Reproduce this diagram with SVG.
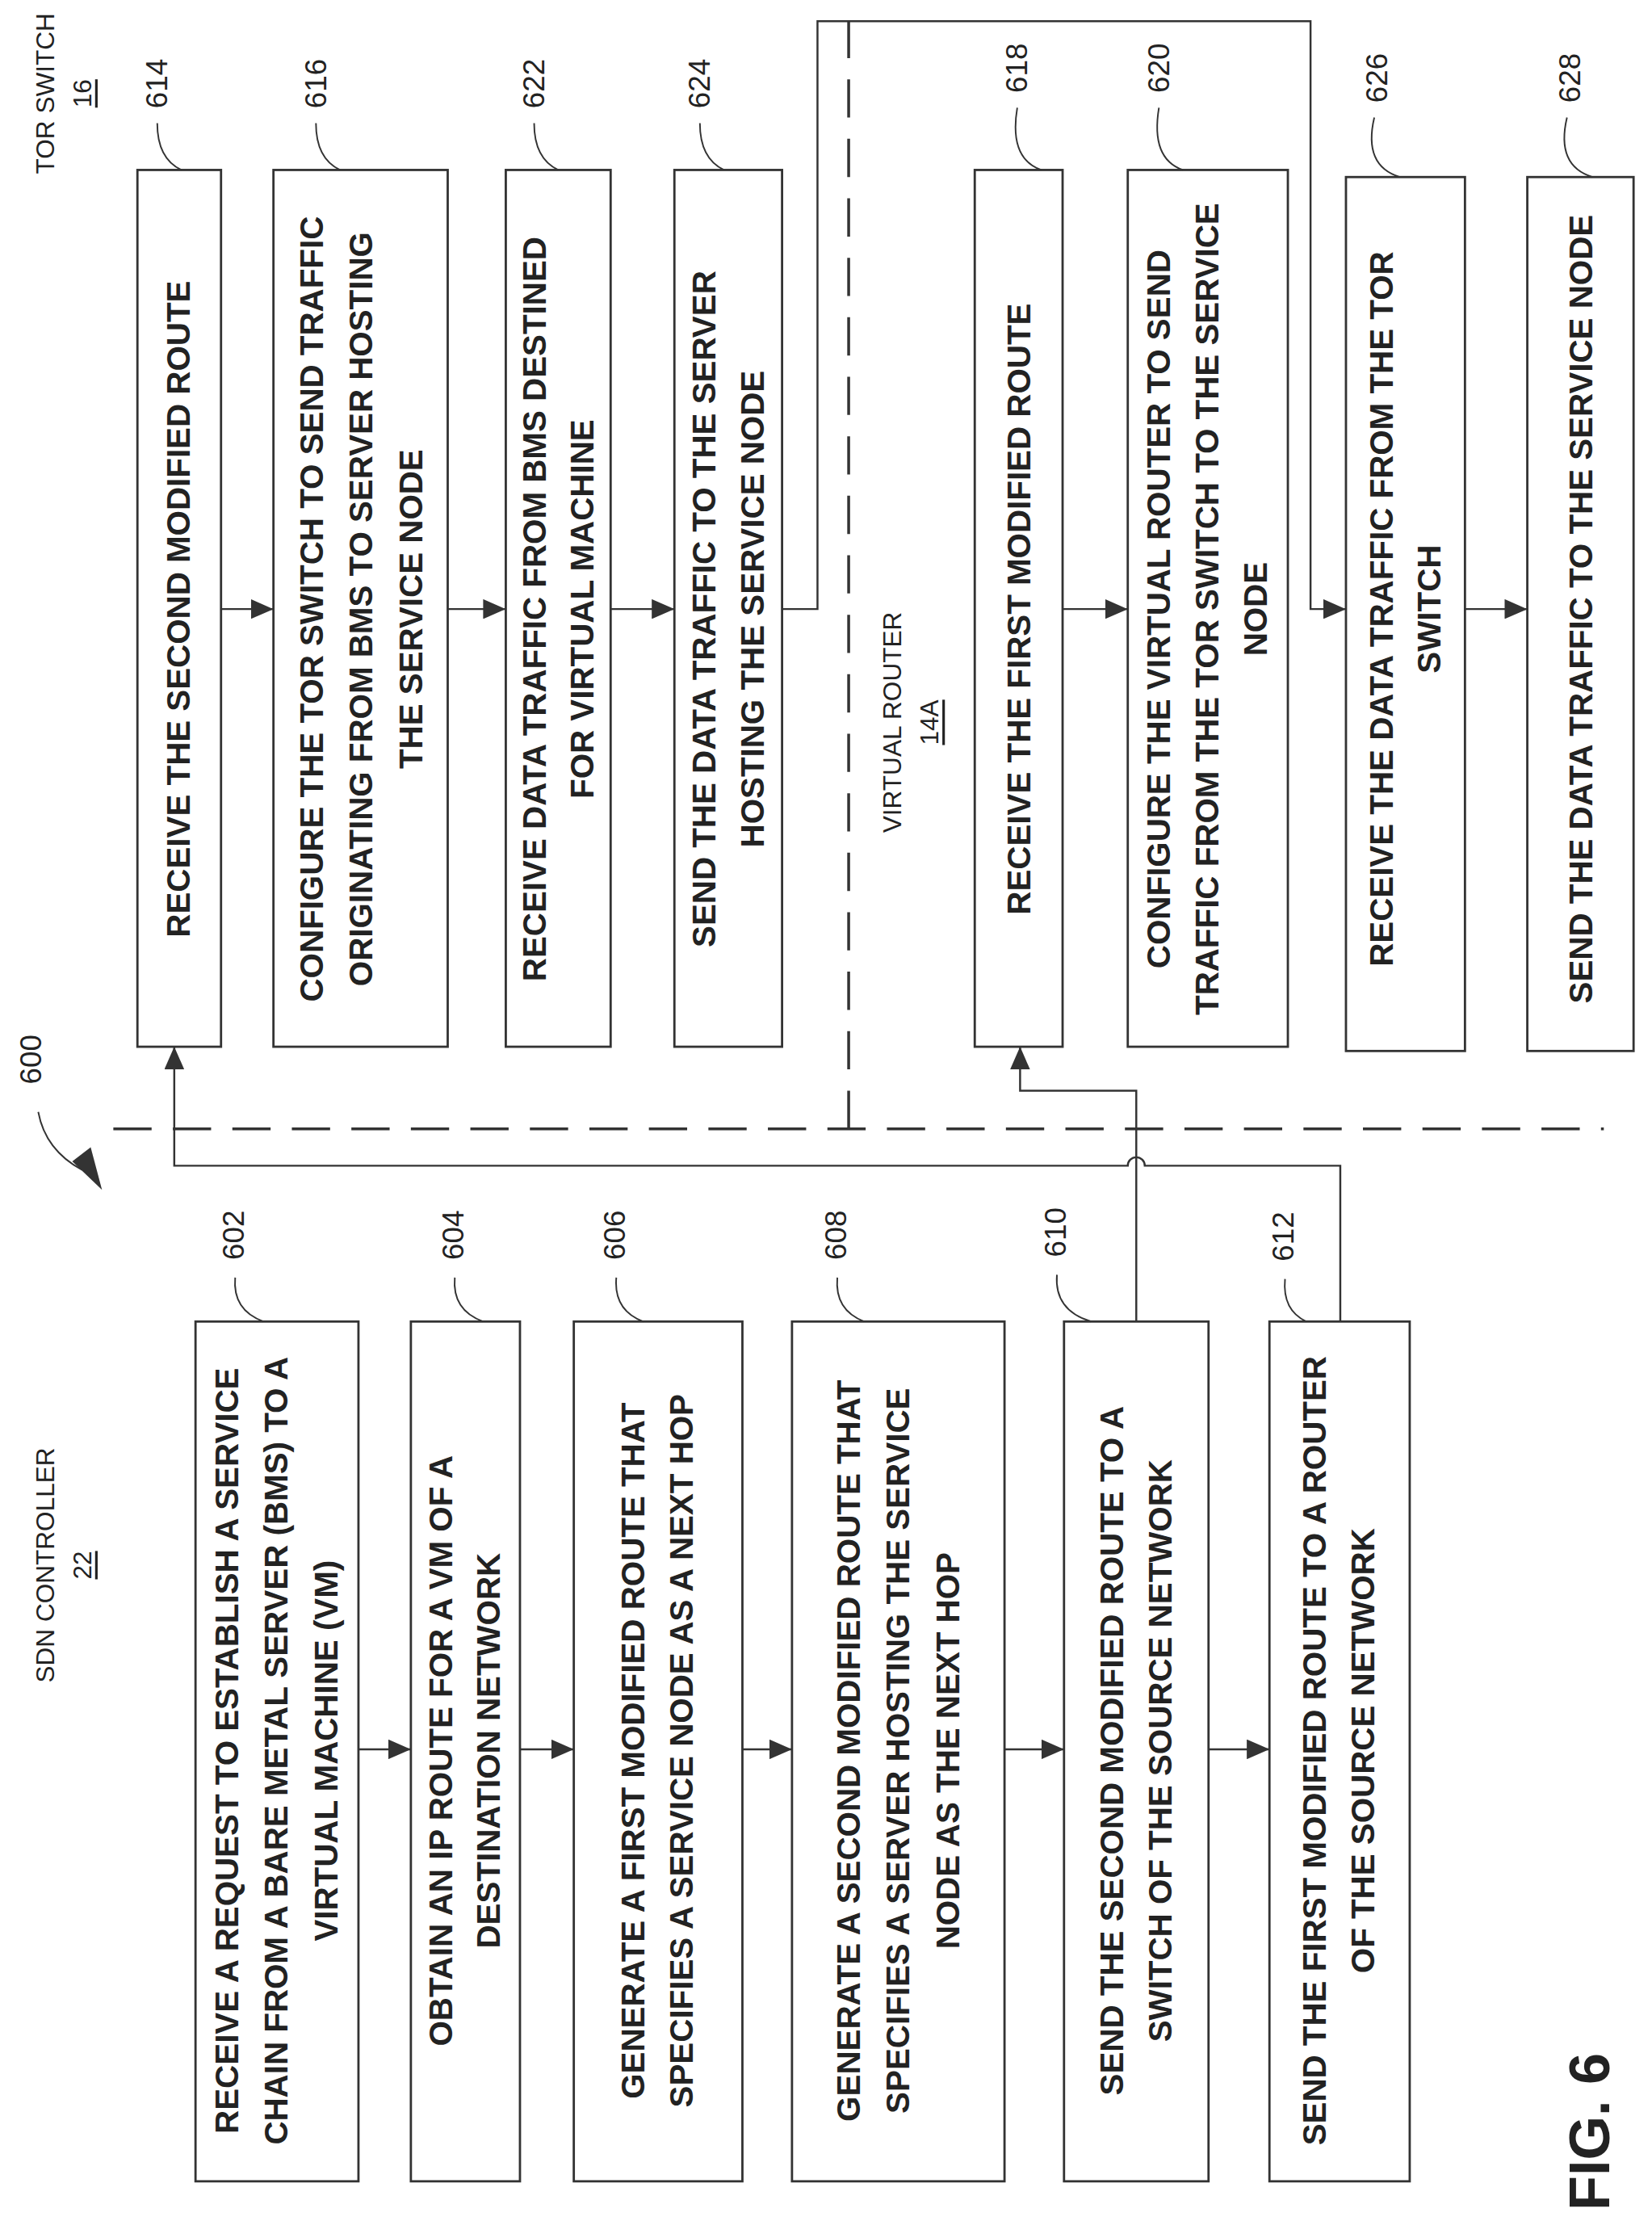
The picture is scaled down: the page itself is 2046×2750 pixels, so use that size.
<svg xmlns="http://www.w3.org/2000/svg" width="2046" height="2750" viewBox="0 0 2046 2750">
<defs>
<marker id="ah" viewBox="0 0 16 14" refX="16" refY="7" markerWidth="16" markerHeight="14" orient="auto" markerUnits="userSpaceOnUse"><path d="M0,0 L16,7 L0,14 z" fill="#333"/></marker>
<style>
.box{fill:#fff;stroke:#333;stroke-width:1.6}
.t{font-family:"Liberation Sans",Arial,sans-serif;font-size:23px;font-weight:bold;fill:#222;text-anchor:middle;dominant-baseline:central}
.h{font-family:"Liberation Sans",Arial,sans-serif;font-size:18px;fill:#222;text-anchor:middle;dominant-baseline:central}
.n{font-family:"Liberation Sans",Arial,sans-serif;font-size:21px;fill:#222;text-anchor:middle;dominant-baseline:central}
.c{fill:none;stroke:#333;stroke-width:1.4}
.d{fill:none;stroke:#333;stroke-width:2;stroke-dasharray:27 15}
.ld{fill:none;stroke:#333;stroke-width:1.1}
</style>
</defs>
<rect width="2046" height="2750" fill="#fff"/>
<g transform="scale(1.7547,1.7538)">
<g id="titles">
<text class="h" transform="translate(32,1105) rotate(-90)">SDN CONTROLLER</text>
<text class="h" transform="translate(58,1105) rotate(-90)" text-decoration="underline">22</text>
<text class="h" transform="translate(32,66) rotate(-90)">TOR SWITCH</text>
<text class="h" transform="translate(58,66) rotate(-90)" text-decoration="underline">16</text>
<text class="h" transform="translate(630,510) rotate(-90)">VIRTUAL ROUTER</text>
<text class="h" transform="translate(656,510) rotate(-90)" text-decoration="underline">14A</text>
<text class="n" transform="translate(22,748) rotate(-90)">600</text>
<path class="ld" d="M27,785 Q32,812 58,826" stroke-width="1.6"/>
<path d="M51,820 L64,810 L72,840 z" fill="#333"/>
<text class="t" style="font-size:40px" transform="translate(1122,1505) rotate(-90)">FIG. 6</text>
</g>
<g id="dividers">
<path class="d" d="M80,797 H1132"/>
<path class="d" d="M599,797 V15"/>
</g>
<g id="n602"><rect class="box" x="138" y="933" width="115" height="607"/><text class="t" transform="translate(195,1236) rotate(-90)"><tspan x="0" dy="-35">RECEIVE A REQUEST TO ESTABLISH A SERVICE</tspan><tspan x="0" dy="35">CHAIN FROM A BARE METAL SERVER (BMS) TO A</tspan><tspan x="0" dy="35">VIRTUAL MACHINE (VM)</tspan></text><text class="n" transform="translate(165,872) rotate(-90)">602</text><path class="ld" d="M166,902 Q164,925 186,933"/></g>
<g id="n604"><rect class="box" x="290" y="933" width="77" height="607"/><text class="t" transform="translate(328,1236) rotate(-90)"><tspan x="0" dy="-17">OBTAIN AN IP ROUTE FOR A VM OF A</tspan><tspan x="0" dy="34">DESTINATION NETWORK</tspan></text><text class="n" transform="translate(320,872) rotate(-90)">604</text><path class="ld" d="M321,902 Q319,925 341,933"/></g>
<g id="n606"><rect class="box" x="405" y="933" width="119" height="607"/><text class="t" transform="translate(464,1236) rotate(-90)"><tspan x="0" dy="-17">GENERATE A FIRST MODIFIED ROUTE THAT</tspan><tspan x="0" dy="34">SPECIFIES A SERVICE NODE AS A NEXT HOP</tspan></text><text class="n" transform="translate(434,872) rotate(-90)">606</text><path class="ld" d="M435,902 Q433,925 454,933"/></g>
<g id="n608"><rect class="box" x="559" y="933" width="150" height="607"/><text class="t" transform="translate(634,1236) rotate(-90)"><tspan x="0" dy="-35">GENERATE A SECOND MODIFIED ROUTE THAT</tspan><tspan x="0" dy="35">SPECIFIES A SERVER HOSTING THE SERVICE</tspan><tspan x="0" dy="35">NODE AS THE NEXT HOP</tspan></text><text class="n" transform="translate(590,872) rotate(-90)">608</text><path class="ld" d="M591,902 Q589,925 610,933"/></g>
<g id="n610"><rect class="box" x="751" y="933" width="102" height="607"/><text class="t" transform="translate(802,1236) rotate(-90)"><tspan x="0" dy="-17">SEND THE SECOND MODIFIED ROUTE TO A</tspan><tspan x="0" dy="34">SWITCH OF THE SOURCE NETWORK</tspan></text><text class="n" transform="translate(745,870) rotate(-90)">610</text><path class="ld" d="M746,900 Q744,925 770,933"/></g>
<g id="n612"><rect class="box" x="896" y="933" width="99" height="607"/><text class="t" transform="translate(945,1236) rotate(-90)"><tspan x="0" dy="-17">SEND THE FIRST MODIFIED ROUTE TO A ROUTER</tspan><tspan x="0" dy="34">OF THE SOURCE NETWORK</tspan></text><text class="n" transform="translate(906,873) rotate(-90)">612</text><path class="ld" d="M907,903 Q905,925 922,933"/></g>
<g id="n614"><rect class="box" x="97" y="120" width="59" height="619"/><text class="t" transform="translate(126,430) rotate(-90)">RECEIVE THE SECOND MODIFIED ROUTE</text><text class="n" transform="translate(111,59) rotate(-90)">614</text><path class="ld" d="M111,87 Q111,112 128,120"/></g>
<g id="n616"><rect class="box" x="193" y="120" width="123" height="619"/><text class="t" transform="translate(255,430) rotate(-90)"><tspan x="0" dy="-35">CONFIGURE THE TOR SWITCH TO  SEND TRAFFIC</tspan><tspan x="0" dy="35">ORIGINATING FROM BMS TO SERVER HOSTING</tspan><tspan x="0" dy="35">THE SERVICE NODE</tspan></text><text class="n" transform="translate(223,59) rotate(-90)">616</text><path class="ld" d="M223,87 Q223,112 240,120"/></g>
<g id="n622"><rect class="box" x="357" y="120" width="74" height="619"/><text class="t" transform="translate(394,430) rotate(-90)"><tspan x="0" dy="-17">RECEIVE DATA TRAFFIC FROM BMS DESTINED</tspan><tspan x="0" dy="34">FOR VIRTUAL MACHINE</tspan></text><text class="n" transform="translate(377,59) rotate(-90)">622</text><path class="ld" d="M377,87 Q377,112 394,120"/></g>
<g id="n624"><rect class="box" x="476" y="120" width="76" height="619"/><text class="t" transform="translate(514,430) rotate(-90)"><tspan x="0" dy="-17">SEND THE DATA TRAFFIC TO THE SERVER</tspan><tspan x="0" dy="34">HOSTING THE SERVICE NODE</tspan></text><text class="n" transform="translate(494,59) rotate(-90)">624</text><path class="ld" d="M494,87 Q494,112 511,120"/></g>
<g id="n618"><rect class="box" x="688" y="120" width="62" height="619"/><text class="t" transform="translate(719,430) rotate(-90)">RECEIVE THE FIRST MODIFIED ROUTE</text><text class="n" transform="translate(718,48) rotate(-90)">618</text><path class="ld" d="M718,76 Q712,112 735,120"/></g>
<g id="n620"><rect class="box" x="796" y="120" width="113" height="619"/><text class="t" transform="translate(852,430) rotate(-90)"><tspan x="0" dy="-34">CONFIGURE THE VIRTUAL ROUTER TO SEND</tspan><tspan x="0" dy="34">TRAFFIC FROM THE TOR SWITCH TO THE SERVICE</tspan><tspan x="0" dy="34">NODE</tspan></text><text class="n" transform="translate(818,48) rotate(-90)">620</text><path class="ld" d="M818,76 Q812,112 835,120"/></g>
<g id="n626"><rect class="box" x="950" y="125" width="84" height="617"/><text class="t" transform="translate(992,430) rotate(-90)"><tspan x="0" dy="-17">RECEIVE THE DATA TRAFFIC FROM THE TOR</tspan><tspan x="0" dy="34">SWITCH</tspan></text><text class="n" transform="translate(972,55) rotate(-90)">626</text><path class="ld" d="M970,83 Q962,117 988,125"/></g>
<g id="n628"><rect class="box" x="1078" y="125" width="75" height="617"/><text class="t" transform="translate(1116,430) rotate(-90)">SEND THE DATA TRAFFIC TO THE SERVICE NODE</text><text class="n" transform="translate(1108,55) rotate(-90)">628</text><path class="ld" d="M1106,83 Q1098,117 1124,125"/></g>
<g id="connectors">
<path class="c" marker-end="url(#ah)" d="M253,1235 H290"/>
<path class="c" marker-end="url(#ah)" d="M367,1235 H405"/>
<path class="c" marker-end="url(#ah)" d="M524,1235 H559"/>
<path class="c" marker-end="url(#ah)" d="M709,1235 H751"/>
<path class="c" marker-end="url(#ah)" d="M853,1235 H896"/>
<path class="c" marker-end="url(#ah)" d="M156,430 H193"/>
<path class="c" marker-end="url(#ah)" d="M316,430 H357"/>
<path class="c" marker-end="url(#ah)" d="M431,430 H476"/>
<path class="c" marker-end="url(#ah)" d="M750,430 H796"/>
<path class="c" marker-end="url(#ah)" d="M1034,430 H1078"/>
<path class="c" marker-end="url(#ah)" d="M552,430 H577 V15 H925 V430 H950"/>
<path class="c" marker-end="url(#ah)" d="M946,933 V823 H808 A6,6 0 0 0 796,823 H123 V739"/>
<path class="c" marker-end="url(#ah)" d="M802,933 V770 H720 V739"/>
</g>
</g>
</svg>
